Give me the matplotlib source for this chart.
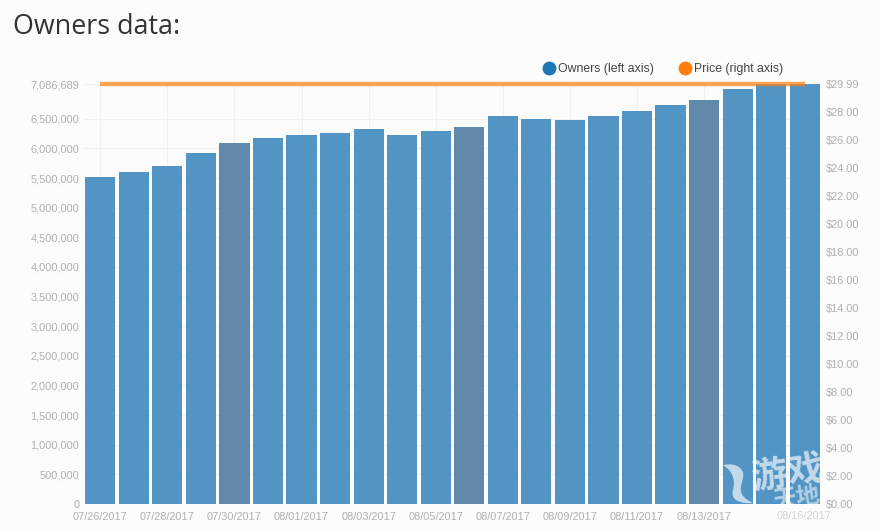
#!/usr/bin/env python3
import matplotlib
matplotlib.use("Agg")
import matplotlib.pyplot as plt
from matplotlib.lines import Line2D
from matplotlib.patches import PathPatch
from matplotlib.path import Path
from matplotlib.transforms import Affine2D

dates = ["07/26/2017", "07/27/2017", "07/28/2017", "07/29/2017", "07/30/2017", "07/31/2017",
	"08/01/2017", "08/02/2017", "08/03/2017", "08/04/2017", "08/05/2017", "08/06/2017",
	"08/07/2017", "08/08/2017", "08/09/2017", "08/10/2017", "08/11/2017", "08/12/2017",
	"08/13/2017", "08/14/2017", "08/15/2017", "08/16/2017"]
owners = [5514000, 5600000, 5700000, 5920000, 6090000, 6170000, 6225000, 6256000, 6320000, 6225000, 6290000,
	6360000, 6540000, 6490000, 6475000, 6540000, 6630000, 6730000, 6810000, 7000000, 7080000, 7086689]
price = [29.99] * 22
dark_days = ["07/30/2017", "08/06/2017", "08/13/2017"]
shown_dates = ["07/26/2017", "07/28/2017", "07/30/2017", "08/01/2017", "08/03/2017", "08/05/2017",
	"08/07/2017", "08/09/2017", "08/11/2017", "08/13/2017"]
left_ticks = [0, 500000, 1000000, 1500000, 2000000, 2500000, 3000000, 3500000, 4000000,
	4500000, 5000000, 5500000, 6000000, 6500000, 7086689]
right_ticks = [0, 2, 4, 6, 8, 10, 12, 14, 16, 18, 20, 22, 24, 26, 28, 29.99]

BG = "#fcfcfc"
TICK = "#b0b0b0"
W, H = 880, 531

plt.rcParams["font.family"] = ["Liberation Sans", "DejaVu Sans"]

fig = plt.figure(figsize=(W / 100, H / 100), dpi=100, facecolor=BG)
ax = fig.add_axes([83.5 / W, 1 - 504 / H, 738 / W, 420 / H], facecolor=BG)
ax2 = ax.twinx()

x = list(range(len(dates)))
colors = ["#6089ab" if d in dark_days else "#5295c4" for d in dates]
ax.bar(x, owners, width=0.9, color=colors, zorder=3)
ax.set_xlim(-0.5, len(dates) - 0.5)
ax.set_ylim(0, 7086689)
ax.set_xticks([dates.index(d) for d in shown_dates] + [21])
ax.set_xticklabels(shown_dates + [""])
ax.set_yticks(left_ticks)
ax.set_yticklabels([f"{v:,}" for v in left_ticks])
ax.grid(True, color="#f0f0f0", lw=0.8, zorder=0)
ax.set_axisbelow(True)

ax2.plot(x, price, color="#ff7f0e", alpha=0.7, lw=3.2, clip_on=False, zorder=5, solid_capstyle="butt")
ax2.set_ylim(0, 29.99)
ax2.set_yticks(right_ticks)
ax2.set_yticklabels([f"${v:.2f}" for v in right_ticks])

for a in (ax, ax2):
	a.tick_params(length=0, labelsize=7.9, labelcolor=TICK, pad=3)
	for s in a.spines.values():
		s.set_visible(False)
ax.tick_params(axis="x", pad=6)

# last date is lighter, it sits under the watermark
fig.text(804 / W, 1 - 516 / H, dates[-1], fontsize=7.9, color="#d4d4d4", ha="center", va="center")

fig.text(13 / W, 1 - 27 / H, "Owners data:", family=["Open Sans", "DejaVu Sans"], fontsize=19.4,
	color="#333333", ha="left", va="center")

handles = [
	Line2D([], [], ls="", marker="o", ms=9, color="#1f77b4", label="Owners (left axis)"),
	Line2D([], [], ls="", marker="o", ms=9, color="#ff7f0e", label="Price (right axis)"),
]
fig.legend(handles=handles, ncol=2, frameon=False, prop={"family": "Liberation Sans", "size": 8.8},
	labelcolor="#444444", loc="center left", bbox_to_anchor=(537 / W, 1 - 69 / H),
	handletextpad=-0.25, columnspacing=1.5, borderpad=0, borderaxespad=0)

# site watermark, placed in pixels from the top left of the picture
px = Affine2D().scale(1, -1).translate(0, H)
swoosh = Path(
	[(723, 465), (738, 462), (745, 470), (743, 478), (741, 487), (736, 495), (753, 503),
	(740, 504), (730, 500), (733, 490), (736, 478), (731, 470), (723, 465)],
	[Path.MOVETO] + [Path.CURVE4] * 12)
ax2.add_patch(PathPatch(swoosh, transform=px, fc="white", ec="none", alpha=0.65, zorder=10))
ax2.text(788, 473, "游戏", transform=px, family=["Noto Sans CJK SC", "DejaVu Sans"], fontsize=26, weight="bold",
	color="white", alpha=0.65, ha="center", va="center", rotation=8, zorder=10, clip_on=True)
ax2.text(796, 497, "天地", transform=px, family=["Noto Sans CJK SC", "DejaVu Sans"], fontsize=17, weight="bold",
	color="white", alpha=0.55, ha="center", va="center", rotation=8, zorder=10, clip_on=True)

fig.savefig("out.png", dpi=100, facecolor=BG)
